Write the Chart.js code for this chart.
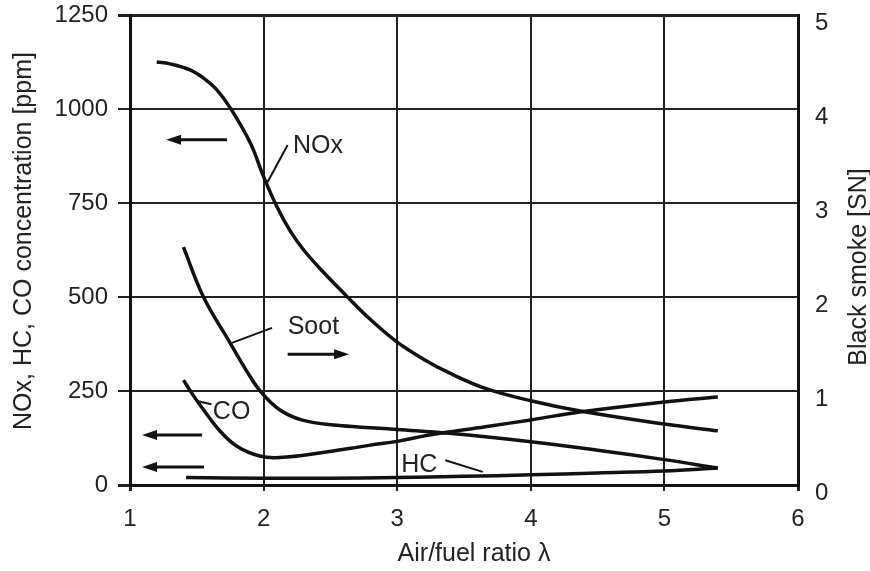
<!DOCTYPE html>
<html>
<head>
<meta charset="utf-8">
<script src="https://cdn.jsdelivr.net/npm/chart.js@4.4.1/dist/chart.umd.min.js"></script>
<style>
    html, body { margin: 0; padding: 0; background: #fff; }
    #wrap { width: 870px; height: 571px; }
</style>
</head>
<body>
<div id="wrap"><canvas id="emissions-chart" width="870" height="571"></canvas></div>
<script>
// values: air/fuel ratio vs. emissions
const noxLambda = [1.2, 1.3, 1.45, 1.55, 1.65, 1.75, 1.9, 2.0, 2.1, 2.2, 2.3, 2.45, 2.62, 2.8, 3.0, 3.2, 3.39, 3.66, 4.0, 4.38, 5.0, 5.4]
const noxPpm = [1125, 1120, 1104, 1082, 1051, 1003, 910, 820, 740, 675, 625, 565, 503, 440, 380, 334, 298, 257, 224, 196, 162, 144]

const sootLambda = [1.4, 1.55, 1.75, 1.87, 1.98, 2.12, 2.29, 2.55, 2.8, 3.0, 3.39, 4.0, 4.5, 5.0, 5.4]
const sootSN = [2.53, 2.0, 1.51, 1.22, 0.99, 0.8, 0.69, 0.635, 0.61, 0.59, 0.55, 0.46, 0.37, 0.27, 0.18]

const coLambda = [1.4, 1.48, 1.55, 1.67, 1.8, 1.97, 2.12, 2.42, 2.8, 3.0, 3.24, 3.66, 4.0, 4.38, 5.0, 5.4]
const coPpm = [279, 235, 200, 145, 103, 77, 73, 85, 106, 116, 133, 155, 173, 195, 221, 234]

const hcLambda = [1.42, 2.0, 2.5, 3.0, 3.5, 4.0, 4.5, 5.0, 5.4]
const hcPpm = [20, 18, 18, 20, 23, 27, 32, 37, 45]

const xTicks = [1, 2, 3, 4, 5, 6]
const ppmTicks = [0, 250, 500, 750, 1000, 1250]
const snTicks = [0, 1, 2, 3, 4, 5]

const xTitle = "Air/fuel ratio λ"
const ppmTitle = "NOx, HC, CO concentration [ppm]"
const snTitle = "Black smoke [SN]"

// curve labels with their leader lines (in lambda / ppm units)
const curveLabels = [
    { text: "NOx", at: [2.22, 902], from: [2.18, 904], to: [2.03, 806] },
    { text: "Soot", at: [2.18, 420], from: [2.063, 418], to: [1.763, 378] },
    { text: "CO", at: [1.62, 194], from: [1.61, 215], to: [1.51, 223] },
    { text: "HC", at: [3.03, 53], from: [3.36, 66], to: [3.64, 35] },
]

// arrows showing which axis each curve belongs to
const axisArrows = [
    { from: [1.726, 918], to: [1.27, 918] },
    { from: [2.18, 348], to: [2.64, 348] },
    { from: [1.54, 133], to: [1.09, 133] },
    { from: [1.554, 48], to: [1.09, 48] },
]

const FONT = "'Liberation Sans', Arial, sans-serif"
const INK = "#111"

function points(xs, ys) {
    return xs.map((x, i) => ({ x: x, y: ys[i] }))
}

function curve(label, xs, ys, axis) {
    return {
        label: label,
        data: points(xs, ys),
        yAxisID: axis,
        borderColor: INK,
        borderWidth: 3.5,
        pointRadius: 0,
        fill: false,
        tension: 0.4,
    }
}

const annotationPlugin = {
    id: "annotations",
    afterDatasetsDraw(chart) {
        const ctx = chart.ctx
        const x = chart.scales.x
        const y = chart.scales.y
        const px = (p) => [x.getPixelForValue(p[0]), y.getPixelForValue(p[1])]

        ctx.save()
        ctx.strokeStyle = INK
        ctx.fillStyle = "#222"
        ctx.lineCap = "butt"

        // labels and leader lines
        ctx.font = "25px " + FONT
        ctx.textAlign = "left"
        ctx.textBaseline = "middle"
        ctx.lineWidth = 2
        curveLabels.forEach((l) => {
            const [tx, ty] = px(l.at)
            ctx.fillText(l.text, tx, ty)
            const [ax, ay] = px(l.from)
            const [bx, by] = px(l.to)
            ctx.beginPath()
            ctx.moveTo(ax, ay)
            ctx.lineTo(bx, by)
            ctx.stroke()
        })

        // arrows
        ctx.fillStyle = INK
        axisArrows.forEach((a) => {
            const [ax, ay] = px(a.from)
            const [bx, by] = px(a.to)
            const dir = Math.sign(bx - ax)
            ctx.lineWidth = 3
            ctx.beginPath()
            ctx.moveTo(ax, ay)
            ctx.lineTo(bx - dir * 10, by)
            ctx.stroke()
            ctx.beginPath()
            ctx.moveTo(bx, by)
            ctx.lineTo(bx - dir * 15, by - 5)
            ctx.lineTo(bx - dir * 15, by + 5)
            ctx.closePath()
            ctx.fill()
        })

        // axis titles
        ctx.fillStyle = "#222"
        ctx.font = "25px " + FONT
        ctx.textAlign = "center"
        ctx.textBaseline = "middle"
        ctx.fillText(xTitle, 474, 554)

        ctx.save()
        ctx.translate(24, 241)
        ctx.rotate(-Math.PI / 2)
        ctx.fillText(ppmTitle, 0, 0)
        ctx.restore()

        ctx.save()
        ctx.translate(859, 267)
        ctx.rotate(-Math.PI / 2)
        ctx.fillText(snTitle, 0, 0)
        ctx.restore()

        ctx.restore()
    },
}

const edgeWidth = (ctx, last) => (ctx.index === 0 || ctx.index === last ? 3 : 2)
const plain = (v) => String(v)

// fixed axis sizes so the plot area lands where it does in the figure
function fixVertical(width) {
    return (s) => {
        s.width = width
        s.paddingTop = 0
        s.paddingBottom = 0
    }
}

const canvas = document.getElementById("emissions-chart")
const emissionsChart = new Chart(canvas, {
    type: "line",
    data: {
        datasets: [
            curve("NOx", noxLambda, noxPpm, "y"),
            curve("Soot", sootLambda, sootSN, "y1"),
            curve("CO", coLambda, coPpm, "y"),
            curve("HC", hcLambda, hcPpm, "y"),
        ],
    },
    options: {
        responsive: false,
        animation: false,
        devicePixelRatio: 1,
        layout: { padding: { top: 15, left: 0, right: 0, bottom: 0 } },
        plugins: {
            legend: { display: false },
            tooltip: { enabled: false },
        },
        scales: {
            x: {
                type: "linear",
                min: 1,
                max: 6,
                afterFit: (s) => {
                    s.height = 86
                    s.paddingLeft = 0
                    s.paddingRight = 0
                },
                afterBuildTicks: (s) => { s.ticks = xTicks.map((v) => ({ value: v })) },
                ticks: {
                    color: "#222",
                    font: { family: FONT, size: 24 },
                    padding: 14,
                    maxRotation: 0,
                    callback: plain,
                },
                grid: {
                    color: "#222",
                    lineWidth: (c) => edgeWidth(c, xTicks.length - 1),
                    tickLength: 6,
                },
                border: { color: "#111", width: 3 },
            },
            y: {
                position: "left",
                min: 0,
                max: 1250,
                afterFit: fixVertical(130),
                afterBuildTicks: (s) => { s.ticks = ppmTicks.map((v) => ({ value: v })) },
                ticks: {
                    color: "#222",
                    font: { family: FONT, size: 24 },
                    padding: 10,
                    callback: plain,
                },
                grid: {
                    color: "#222",
                    lineWidth: (c) => edgeWidth(c, ppmTicks.length - 1),
                    tickLength: 12,
                },
                border: { color: "#111", width: 3 },
            },
            y1: {
                position: "right",
                min: 0,
                max: 5,
                afterFit: fixVertical(72),
                afterBuildTicks: (s) => { s.ticks = snTicks.map((v) => ({ value: v })) },
                ticks: {
                    color: "#222",
                    font: { family: FONT, size: 24 },
                    padding: 17,
                    labelOffset: 8,
                    callback: plain,
                },
                grid: { display: false, drawTicks: false },
                border: { color: "#111", width: 3 },
            },
        },
    },
    plugins: [annotationPlugin],
})
</script>
</body>
</html>
